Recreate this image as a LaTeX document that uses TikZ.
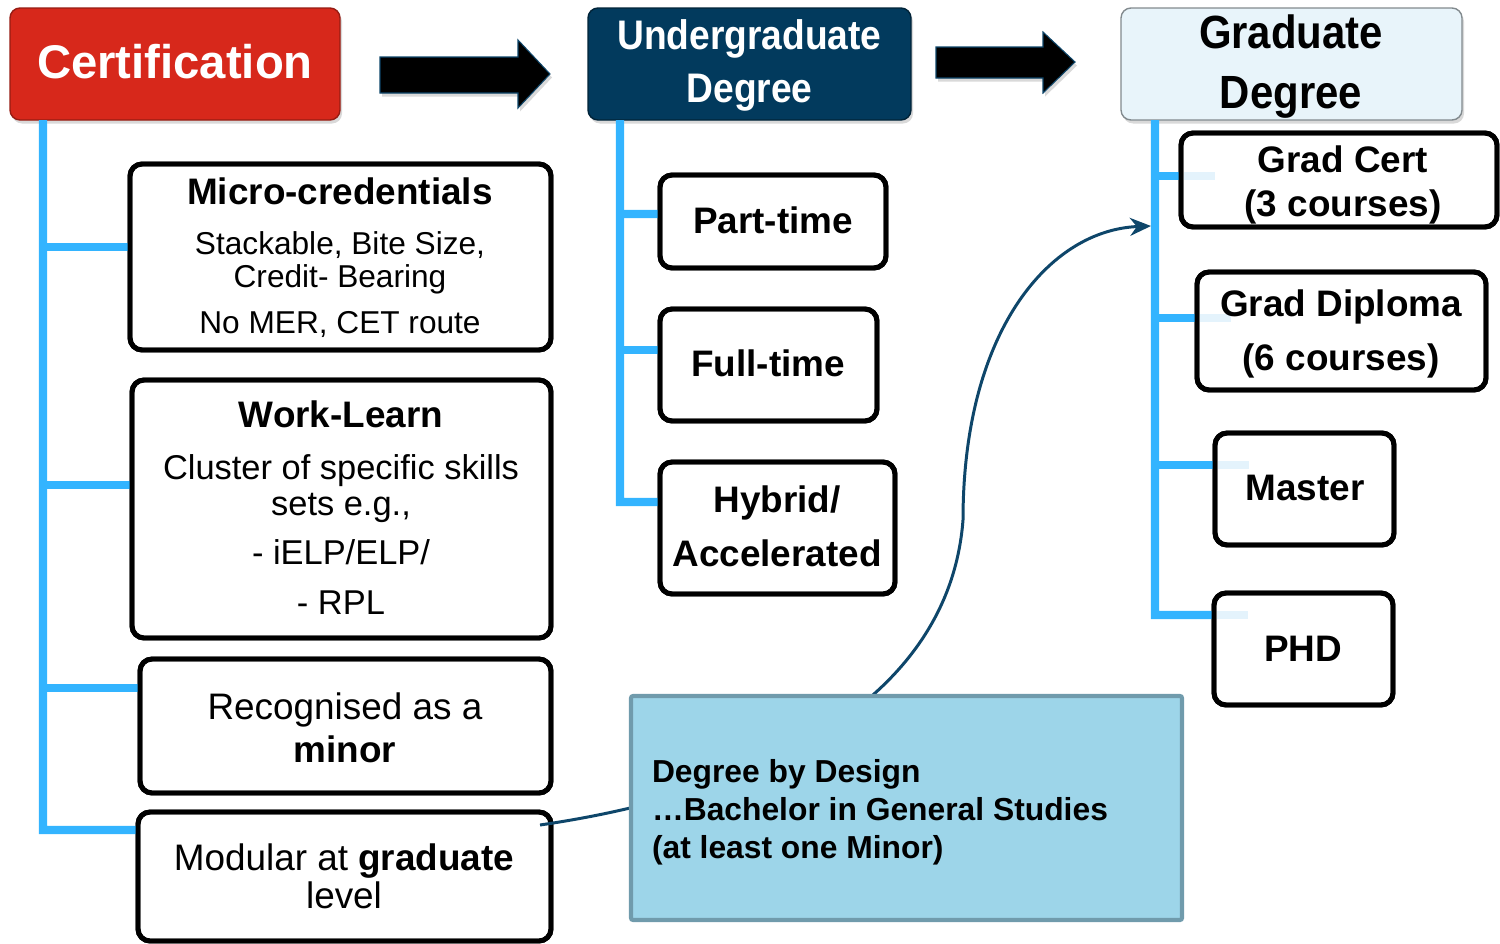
\documentclass[tikz,border=0pt]{standalone}
\usepackage{fontspec}
\setmainfont{Liberation Sans}
\newfontfamily\narrowfont[FakeStretch=0.9]{Liberation Sans}
\usetikzlibrary{fit,calc,arrows.meta,shadows}
\definecolor{certred}{RGB}{215,40,27}
\definecolor{ugnavy}{RGB}{2,58,93}
\definecolor{gradfill}{RGB}{232,244,250}
\definecolor{gradborder}{RGB}{130,138,142}
\definecolor{treeblue}{RGB}{51,180,255}
\definecolor{paleblue}{RGB}{228,243,252}
\definecolor{bbfill}{RGB}{157,213,233}
\definecolor{bbborder}{RGB}{112,155,172}
\definecolor{linknavy}{RGB}{14,70,106}
\newcommand\setsz[1]{\fontsize{#1}{#1}\selectfont}
\tikzset{
  box/.style={draw=black, line width=2.8pt, rounded corners=0.24cm, fill=white, inner sep=0pt, outer sep=0pt},
  hdr/.style={line width=0.8pt, rounded corners=0.2cm, inner sep=0pt, outer sep=0pt,
    drop shadow={opacity=0.3, shadow xshift=0.04cm, shadow yshift=-0.07cm}},
  tree/.style={draw=treeblue, line width=4.6pt, line join=miter},
  pale/.style={draw=paleblue, line width=4.6pt},
  sz/.style={inner sep=0pt, outer sep=0pt, text height={#1*0.716pt}, text depth=0pt},
  bodyb/.style={sz=21, font=\setsz{21}\bfseries},
  bodyr/.style={sz=21, font=\setsz{21}},
  link/.style={draw=linknavy, line width=1.7pt, -{Stealth[length=0.42cm, width=0.36cm]}},
  blockarrow/.style={fill=black, draw=linknavy, line width=0.6pt,
    drop shadow={opacity=0.3, shadow xshift=0.04cm, shadow yshift=-0.07cm}},
}
\begin{document}
\begin{tikzpicture}[x=0.02cm, y=-0.02cm]
\useasboundingbox (0,0) rectangle (1500,943);

% ---------- headers ----------
\node[hdr, fill=certred, draw=certred!70!black, fit={(10,8)(340,120)}] (cert) {};
\node[sz=26.9, text=white, font=\setsz{26.9}\bfseries] (certt) at (175,62) {Certification};

\node[hdr, fill=ugnavy, draw=ugnavy!60!black, fit={(588,8)(911,120)}] (ug) {};
\node[sz=23.5, text=white, font=\narrowfont\setsz{23.5}\bfseries] (ugt1) at (749.5,35) {Undergraduate};
\node[sz=23.5, text=white, font=\narrowfont\setsz{23.5}\bfseries] (ugt2) at (749.5,88) {Degree};

\node[hdr, fill=gradfill, draw=gradborder, fit={(1121,8)(1462,120)}] (grad) {};
\node[sz=26.5, font=\narrowfont\setsz{26.5}\bfseries] (gradt1) at (1291,32) {Graduate};
\node[sz=26.5, font=\narrowfont\setsz{26.5}\bfseries] (gradt2) at (1291,92) {Degree};

% block arrows
\path[blockarrow] (380,57) -- (518,57) -- (518,40) -- (550,74) -- (518,108) -- (518,93) -- (380,93) -- cycle;
\path[blockarrow] (936,47) -- (1043,47) -- (1043,32) -- (1075,62) -- (1043,93) -- (1043,78) -- (936,78) -- cycle;

% ---------- child boxes (geometry) ----------
\node[box, fit={(130,164)(551,350)}] (micro) {};
\node[box, fit={(132,380)(551,638)}] (work) {};
\node[box, fit={(140,659)(551,793)}] (minor) {};
\node[box, fit={(138,812)(551,941)}] (modular) {};

\node[box, fit={(660,175)(886,268)}] (part) {};
\node[box, fit={(660,309)(877,421)}] (full) {};
\node[box, fit={(660,462)(895,594)}] (hybrid) {};

\node[box, fit={(1181,133)(1497,227)}] (gcert) {};
\node[box, fit={(1197,272)(1486,390)}] (gdip) {};
\node[box, fit={(1215,433)(1394,545)}] (master) {};
\node[box, fit={(1214,593)(1393,705)}] (phd) {};

% ---------- tree lines ----------
\draw[tree] ([xshift=0.66cm]cert.south west) -- (43,830) -- ($(modular.north west)+(0,18)$);
\draw[tree] (43,247) -- ($(micro.north west)+(0,83)$);
\draw[tree] (43,485) -- ($(work.north west)+(0,105)$);
\draw[tree] (43,688) -- ($(minor.north west)+(0,29)$);

\draw[tree] ([xshift=0.64cm]ug.south west) -- (620,502) -- ($(hybrid.north west)+(0,40)$);
\draw[tree] (620,214) -- ($(part.north west)+(0,39)$);
\draw[tree] (620,350) -- ($(full.north west)+(0,41)$);

\draw[tree] ([xshift=0.68cm]grad.south west) -- (1155,615) -- ($(phd.north west)+(0,22)$);
\draw[tree] (1155,176) -- ($(gcert.north west)+(0,43)$);
\draw[tree] (1155,318) -- ($(gdip.north west)+(0,46)$);
\draw[tree] (1155,465) -- ($(master.north west)+(0,32)$);

% redraw box outlines on top of branch ends
\foreach \b in {micro,work,minor,modular,part,full,hybrid,gcert,gdip,master,phd}{
  \draw[black, line width=2.8pt, rounded corners=0.24cm] (\b.north west) rectangle (\b.south east);
}

% pale extensions inside graduate boxes
\draw[pale] ($(gcert.north west)+(3,43)$) -- ++(31,0);
\draw[pale] ($(gdip.north west)+(3,46)$) -- ++(31,0);
\draw[pale] ($(master.north west)+(3,32)$) -- ++(31,0);
\draw[pale] ($(phd.north west)+(3,22)$) -- ++(31,0);

% ---------- texts ----------
\node[bodyb] (microt) at (340,191) {Micro-credentials};
\node[sz=18, font=\setsz{18}] (micro1) at (340,243) {Stackable, Bite Size,};
\node[sz=18, font=\setsz{18}] (micro2) at (340,276) {Credit- Bearing};
\node[sz=18, font=\setsz{18}] (micro3) at (340,322) {No MER, CET route};

\node[bodyb] (workt) at (341,414) {Work-Learn};
\node[sz=19.6, font=\setsz{19.6}] (work1) at (341,467) {Cluster of specific skills};
\node[sz=19.6, font=\setsz{19.6}] (work2) at (341,503) {sets e.g.,};
\node[sz=19.6, font=\setsz{19.6}] (work3) at (341,552) {- iELP/ELP/};
\node[sz=19.6, font=\setsz{19.6}] (work4) at (341,602) {- RPL};

\node[bodyr] (minor1) at (345,706) {Recognised as a};
\node[bodyb] (minor2) at (345,749) {minor};

\node[bodyr] (mod1) at (344,857) {Modular at \textbf{graduate}};
\node[bodyr] (mod2) at (344,895) {level};

\node[bodyb] (partt) at (773,220) {Part-time};
\node[bodyb] (fullt) at (768,363) {Full-time};
\node[bodyb] (hyb1) at (777,499) {Hybrid/};
\node[bodyb] (hyb2) at (777,553) {Accelerated};

\node[bodyb] (gc1) at (1343,159) {Grad Cert};
\node[bodyb] (gc2) at (1343,203) {(3 courses)};
\node[bodyb] (gd1) at (1341,303) {Grad Diploma};
\node[bodyb] (gd2) at (1341,357) {(6 courses)};
\node[bodyb] (mastert) at (1305,487) {Master};
\node[bodyb] (phdt) at (1303,648) {PHD};

% ---------- connector ----------
\coordinate (gradin) at (1151,226);
\draw[link] ($(modular.north east)+(-11,13)$) .. controls (780,790) and (950,690) .. (963,520)
  .. controls (963,330) and (1050,230) .. (gradin);

% ---------- degree by design box ----------
\node[draw=bbborder, fill=bbfill, line width=2.3pt, rounded corners=0.04cm, inner sep=0pt, outer sep=0pt,
  fit={(631,696)(1182,920)}] (design) {};
\node[sz=18.1, anchor=west, font=\setsz{18.1}\bfseries] (d1) at (652,771) {Degree by Design};
\node[sz=18.1, anchor=west, font=\setsz{18.1}\bfseries] (d2) at (652,809) {…Bachelor in General Studies};
\node[sz=18.1, anchor=west, font=\setsz{18.1}\bfseries] (d3) at (652,847) {(at least one Minor)};
\end{tikzpicture}
\end{document}
